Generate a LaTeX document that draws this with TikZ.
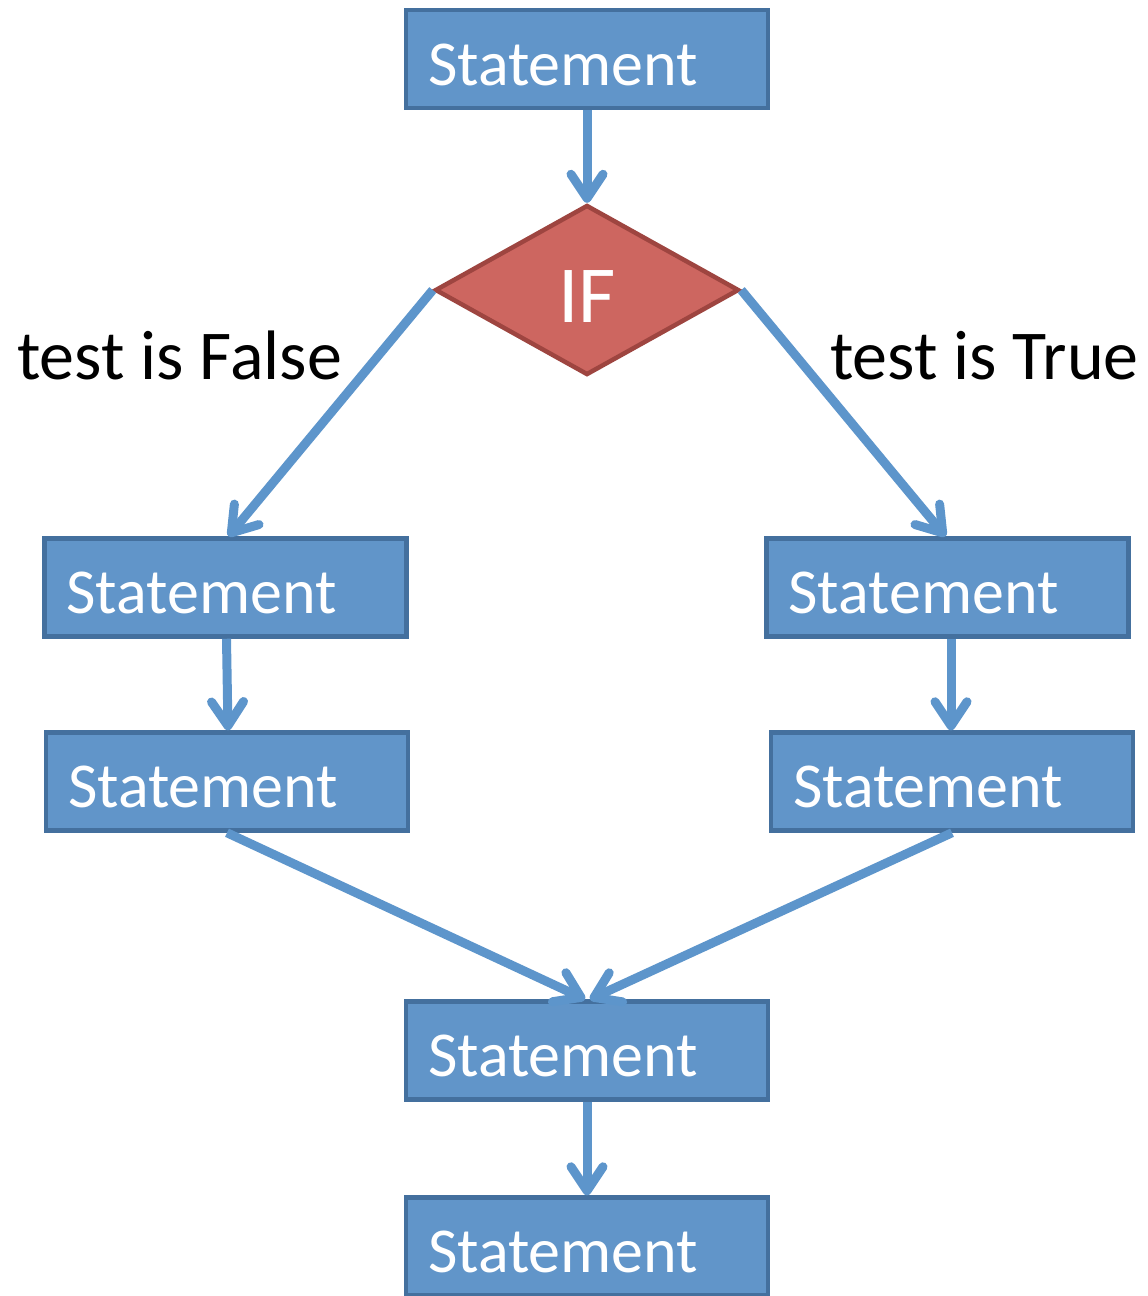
\documentclass[tikz,border=0pt]{standalone}
\usepackage{fontspec}
\setmainfont{Carlito}
\usetikzlibrary{shapes.geometric,arrows.meta}
\definecolor{boxfill}{HTML}{6195C9}
\definecolor{boxline}{HTML}{44709E}
\definecolor{flowline}{HTML}{5D95CB}
\definecolor{iffill}{HTML}{CD6660}
\definecolor{ifline}{HTML}{9E4540}
\begin{document}
\begin{tikzpicture}[x=1pt, y=-1pt,
        >={Straight Barb[length=24pt, width=32pt, round]},
        stmt/.style={draw=boxline, fill=boxfill, line width=4.5pt, rectangle,
            minimum width=362pt, minimum height=98pt, text width=318pt,
            inner xsep=22pt, align=left, text=white,
            text height=52pt, text depth=0pt,
            font=\fontsize{64}{70}\selectfont},
        test/.style={diamond, draw=ifline, fill=iffill, line width=4.5pt,
            minimum width=304pt, minimum height=170pt, inner sep=0pt,
            text=white, text height=64pt, text depth=0pt,
            font=\fontsize{81}{90}\selectfont},
        flow/.style={->, draw=flowline, line width=9pt},
        lbl/.style={font=\fontsize{70}{76}\selectfont, inner sep=0pt, anchor=base west}]
    \useasboundingbox (0,0) rectangle (1148,1296);

    % Nodes
    \node[stmt] (top) at (587, 59) {Statement};
    \node[test] (if) at (587, 290) {IF};
    \node[stmt] (f1) at (225.5, 587.5) {Statement};
    \node[stmt] (f2) at (227, 781.5) {Statement};
    \node[stmt] (t1) at (947.5, 587.5) {Statement};
    \node[stmt] (t2) at (952, 781.5) {Statement};
    \node[stmt] (join) at (587, 1050.5) {Statement};
    \node[stmt] (last) at (587, 1246.5) {Statement};

    % Labels
    \node[lbl] (falselbl) at (17, 379) {test is False};
    \node[lbl] (truelbl) at (830, 379) {test is True};

    % Edges
    \draw[flow] (top) -- (if.north);
    \draw[flow] (if.west) -- ([xshift=3pt]f1.north);
    \draw[flow] (if.east) -- ([xshift=-2pt]t1.north);
    \draw[flow] ([xshift=1pt]f1.south) -- ([xshift=1pt]f2.north);
    \draw[flow] ([xshift=3.5pt]t1.south) -- ([xshift=-1pt]t2.north);
    \draw[flow] (f2.south) -- ([xshift=-2pt]join.north);
    \draw[flow] (t2.south) -- ([xshift=3pt]join.north);
    \draw[flow] (join) -- (last);
\end{tikzpicture}
\end{document}
